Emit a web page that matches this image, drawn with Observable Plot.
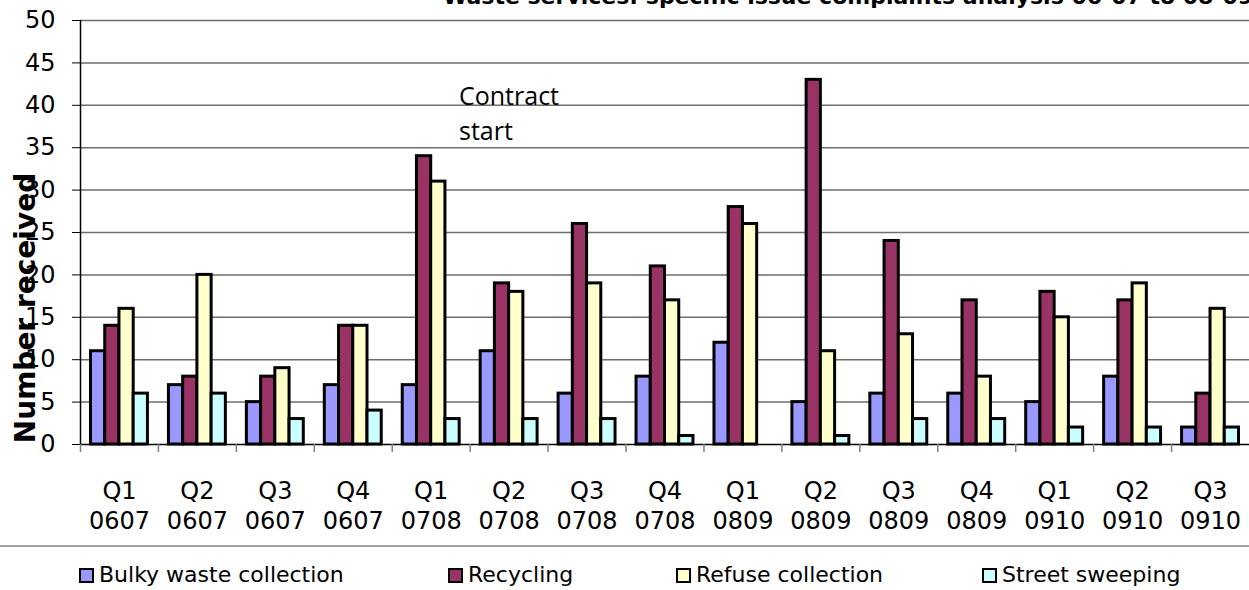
<!DOCTYPE html>
<html>
<head>
<meta charset="utf-8">
<script src="https://cdn.jsdelivr.net/npm/d3@7"></script>
<script src="https://cdn.jsdelivr.net/npm/@observablehq/plot@0.6"></script>
<style>
  html, body { margin: 0; padding: 0; background: #fff; overflow: hidden; }
  #wrap { position: relative; width: 1249px; height: 590px; overflow: hidden; font-family: "DejaVu Sans", Verdana, sans-serif; color: #000; }
  #title { position: absolute; left: 443px; top: -14px; font-weight: bold; font-size: 22px; line-height: 22px; white-space: nowrap; }
  #ylabel { position: absolute; left: 25px; top: 308px; transform: translate(-50%, -50%) rotate(-90deg); font-weight: bold; font-size: 28px; white-space: nowrap; }
  #note { position: absolute; left: 459px; top: 78px; font-family: "Open Sans", sans-serif; font-size: 25px; line-height: 35px; }
  #legend { position: absolute; left: 0; top: 545px; width: 1249px; height: 45px; border-top: 2px solid #a0a0a0; }
  .item { position: absolute; top: 17px; font-size: 22px; line-height: 22px; white-space: nowrap; display: flex; align-items: center; }
  .sw { width: 11px; height: 11px; border: 2px solid #000; margin-right: 5px; }
</style>
</head>
<body>
<div id="wrap">
  <div id="chart"></div>
  <div id="title"></div>
  <div id="ylabel"></div>
  <div id="note"></div>
  <div id="legend"></div>
</div>
<script>
const titleText = "Waste services: specific issue complaints analysis 06-07 to 08-09";
const yLabelText = "Number received";
const noteLines = ["Contract", "start"];
const quarters = ["Q1 0607","Q2 0607","Q3 0607","Q4 0607","Q1 0708","Q2 0708","Q3 0708","Q4 0708","Q1 0809","Q2 0809","Q3 0809","Q4 0809","Q1 0910","Q2 0910","Q3 0910"];
const bulky     = [11, 7, 5, 7, 7, 11, 6, 8, 12, 5, 6, 6, 5, 8, 2];
const recycling = [14, 8, 8, 14, 34, 19, 26, 21, 28, 43, 24, 17, 18, 17, 6];
const refuse    = [16, 20, 9, 14, 31, 18, 19, 17, 26, 11, 13, 8, 15, 19, 16];
const street    = [6, 6, 3, 4, 3, 3, 3, 1, 0, 1, 3, 3, 2, 2, 2];
const seriesNames = ["Bulky waste collection", "Recycling", "Refuse collection", "Street sweeping"];
const seriesColors = ["#9999FF", "#993366", "#FFFFCC", "#CCFFFF"];
const seriesValues = [bulky, recycling, refuse, street];
const yTicks = [0, 5, 10, 15, 20, 25, 30, 35, 40, 45, 50];
const legendX = [79, 448, 676, 982];

const W = 1249, H = 545, ML = 80, MR = 0, MT = 20, MB = 101;
const bw = (W - ML - MR) / quarters.length;
const pad = 10.5;
const barW = (bw - 2 * pad) / seriesNames.length;

const barMarks = seriesValues.map((vals, i) =>
  Plot.barY(
    quarters.map((q, j) => ({q, v: vals[j]})).filter(d => d.v > 0),
    {
      x: "q", y: "v",
      fill: seriesColors[i], stroke: "#000", strokeWidth: 3,
      insetLeft: pad + i * barW,
      insetRight: bw - pad - (i + 1) * barW
    }
  )
);

const chart = Plot.plot({
  width: W, height: H,
  marginLeft: ML, marginRight: MR, marginTop: MT, marginBottom: MB,
  style: {fontFamily: "DejaVu Sans, Verdana, sans-serif", background: "#fff", color: "#000"},
  x: {type: "band", domain: quarters, padding: 0, round: false, axis: null},
  y: {domain: [0, 50], axis: null},
  marks: [
    Plot.ruleY(yTicks.filter(d => d > 0), {stroke: "#6e6e6e", strokeWidth: 1.5}),
    ...barMarks,
    Plot.ruleY([0], {stroke: "#000", strokeWidth: 1.5}),
    Plot.ruleX([quarters[0]], {dx: -bw / 2, stroke: "#000", strokeWidth: 1.5}),
    Plot.ruleX(quarters.map(q => ({q, a: 0, b: 0})), {x: "q", y1: "a", y2: "b", dx: -bw / 2, insetBottom: -8, stroke: "#808080", strokeWidth: 1.5}),
    Plot.axisY({ticks: yTicks, tickSize: 8, tickPadding: 17, fontSize: 24, label: null, anchor: "left"}),
    Plot.axisX({tickSize: 0, tickPadding: 33, fontSize: 24, lineHeight: 1.25, label: null, tickFormat: d => d.replace(" ", "\n")})
  ]
});
document.getElementById("chart").appendChild(chart);

document.getElementById("title").textContent = titleText;
document.getElementById("ylabel").textContent = yLabelText;
document.getElementById("note").innerHTML = noteLines.join("<br>");
const legend = document.getElementById("legend");
seriesNames.forEach((name, i) => {
  const item = document.createElement("div");
  item.className = "item";
  item.style.left = legendX[i] + "px";
  const sw = document.createElement("div");
  sw.className = "sw";
  sw.style.background = seriesColors[i];
  item.appendChild(sw);
  item.appendChild(document.createTextNode(name));
  legend.appendChild(item);
});
</script>
</body>
</html>
